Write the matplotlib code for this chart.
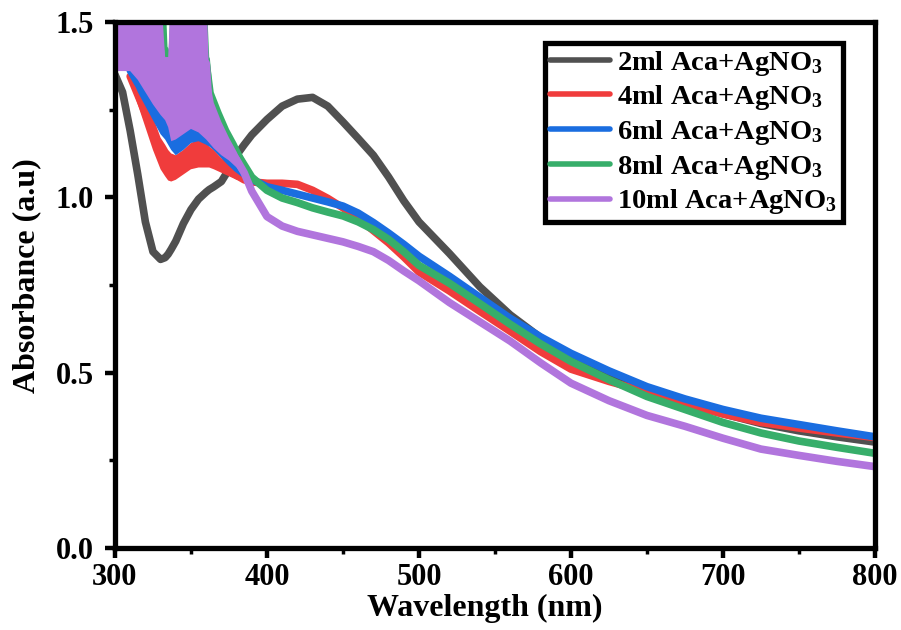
import numpy as np
import matplotlib
matplotlib.use("Agg")
import matplotlib.pyplot as plt
from matplotlib.lines import Line2D
from matplotlib.ticker import MultipleLocator

plt.rcParams['font.family'] = ['Liberation Serif', 'DejaVu Serif']
plt.rcParams['font.weight'] = 'bold'
plt.rcParams['mathtext.fontset'] = 'custom'
plt.rcParams['mathtext.rm'] = 'Liberation Serif:bold'
plt.rcParams['mathtext.bf'] = 'Liberation Serif:bold'
plt.rcParams['mathtext.default'] = 'bf'

# %% data
wavelength = [300, 305, 310, 315, 320, 325, 330, 333, 335, 337, 340, 345, 350, 355, 360,
              362, 365, 370, 375, 380, 385, 390, 400, 410, 420, 430, 440, 450, 460, 470,
              480, 490, 500, 520, 540, 560, 580, 600, 625, 650, 675, 700, 725, 750, 775, 800]
n_noisy = 22  # first points (300-390 nm) where the traces are noisy bands

nan = np.nan
abs_2ml = [1.35, 1.30, 1.19, 1.065, 0.93, 0.845, 0.823, 0.828, 0.838, 0.852, 0.875, 0.925, 0.965, 0.995, 1.015,
           1.022, 1.03, 1.045, 1.08, 1.12, 1.15, 1.178, 1.222, 1.26, 1.28, 1.285, 1.26, 1.215, 1.168, 1.12,
           1.058, 0.99, 0.93, 0.84, 0.745, 0.665, 0.60, 0.548, 0.49, 0.448, 0.413, 0.383, 0.355, 0.334, 0.317, 0.302]

# lower edge of each trace (noisy part) / the trace itself (smooth part)
abs_4ml = [nan, nan, 1.33, 1.265, 1.20, 1.135, 1.08, 1.06, 1.048, 1.045, 1.05, 1.065, 1.08, 1.085, 1.085,
           1.085, 1.08, 1.07, 1.06, 1.05, 1.045, 1.043, 1.04, 1.04, 1.037, 1.02, 0.997, 0.97, 0.94, 0.905,
           0.87, 0.83, 0.787, 0.733, 0.675, 0.618, 0.56, 0.51, 0.475, 0.445, 0.41, 0.382, 0.358, 0.342, 0.328, 0.315]
top_4ml = [nan, nan, 1.36, 1.32, 1.28, 1.23, 1.17, 1.15, 1.135, 1.125, 1.12, 1.135, 1.155, 1.165, 1.155,
           1.145, 1.135, 1.112, 1.095, 1.075, 1.055, 1.045]

abs_6ml = [nan, nan, 1.355, 1.30, 1.26, 1.22, 1.18, 1.165, 1.15, 1.135, 1.12, 1.135, 1.155, 1.16, 1.15,
           1.145, 1.135, 1.112, 1.09, 1.072, 1.058, 1.048, 1.03, 1.02, 1.009, 0.998, 0.987, 0.975, 0.955, 0.928,
           0.898, 0.866, 0.832, 0.775, 0.715, 0.655, 0.602, 0.555, 0.505, 0.46, 0.425, 0.395, 0.37, 0.352, 0.334, 0.317]
top_6ml = [nan, nan, 1.37, 1.35, 1.33, 1.30, 1.27, 1.25, 1.24, 1.22, 1.20, 1.19, 1.20, 1.19, 1.18,
           1.175, 1.165, 1.145, 1.12, 1.095, 1.075, 1.055]

abs_8ml = [1.38, 1.38, 1.38, 1.355, 1.32, 1.285, 1.255, 1.24, 1.22, 1.18, 1.185, 1.20, 1.215, 1.205, 1.185,
           1.175, 1.16, 1.14, 1.12, 1.10, 1.075, 1.045, 1.02, 0.998, 0.985, 0.97, 0.958, 0.947, 0.93, 0.908,
           0.88, 0.845, 0.806, 0.755, 0.697, 0.638, 0.582, 0.532, 0.48, 0.432, 0.395, 0.358, 0.328, 0.305, 0.287, 0.27]
top_8ml = [1.6, 1.6, 1.6, 1.6, 1.6, 1.6, 1.6, 1.6, 1.38, 1.6, 1.6, 1.6, 1.6, 1.6, 1.6,
           1.40, 1.30, 1.245, 1.195, 1.155, 1.11, 1.07]

abs_10ml = [1.36, 1.36, 1.36, 1.335, 1.30, 1.265, 1.235, 1.22, 1.20, 1.16, 1.165, 1.18, 1.195, 1.185, 1.165,
            1.155, 1.14, 1.12, 1.105, 1.085, 1.055, 1.005, 0.945, 0.918, 0.903, 0.893, 0.883, 0.873, 0.86, 0.845,
            0.82, 0.79, 0.762, 0.70, 0.645, 0.59, 0.528, 0.47, 0.42, 0.378, 0.347, 0.313, 0.282, 0.264, 0.247, 0.232]
top_10ml = [1.6, 1.6, 1.6, 1.6, 1.6, 1.6, 1.6, 1.40, 1.40, 1.6, 1.6, 1.6, 1.6, 1.6, 1.6,
            1.34, 1.27, 1.215, 1.17, 1.13, 1.085, 1.03]

labels = ['2ml Aca+AgNO$_3$', '4ml Aca+AgNO$_3$', '6ml Aca+AgNO$_3$',
          '8ml Aca+AgNO$_3$', '10ml Aca+AgNO$_3$']
colors = ['#505050', '#f03c3c', '#1a6de0', '#37ae6a', '#b175dd']

# %% figure
fig = plt.figure(figsize=(9.01, 6.30), dpi=100)
ax = fig.add_axes([0.1276, 0.1302, 0.8435, 0.8349])

x = np.array(wavelength, dtype=float)
lw = 5.5
ax.plot(x, abs_2ml, color=colors[0], lw=lw, solid_capstyle='round', solid_joinstyle='round', zorder=2)

bands = [(abs_4ml, top_4ml), (abs_6ml, top_6ml), (abs_8ml, top_8ml), (abs_10ml, top_10ml)]
for i, ((lo, top), c) in enumerate(zip(bands, colors[1:])):
    lo = np.array(lo, dtype=float)
    hi = np.concatenate([np.array(top, dtype=float), lo[n_noisy:]])
    ok = ~np.isnan(lo)
    z = 3 + i
    ax.fill_between(x[ok], lo[ok], hi[ok], facecolor=c, lw=0, zorder=z)
    ax.plot(x[ok], (lo[ok] + hi[ok]) / 2, color=c, lw=lw,
            solid_capstyle='round', solid_joinstyle='round', zorder=z)

ax.set_xlim(300, 800)
ax.set_ylim(0, 1.5)
ax.xaxis.set_major_locator(MultipleLocator(100))
ax.xaxis.set_minor_locator(MultipleLocator(50))
ax.yaxis.set_major_locator(MultipleLocator(0.5))
ax.yaxis.set_minor_locator(MultipleLocator(0.25))
ax.yaxis.set_major_formatter(plt.FormatStrFormatter('%.1f'))

for s in ax.spines.values():
    s.set_linewidth(3.8)
    s.set_zorder(10)
ax.tick_params(which='major', direction='out', length=7, width=3.2, labelsize=22)
ax.tick_params(axis='y', which='major', pad=8)
ax.tick_params(axis='x', which='major', pad=4)
ax.tick_params(which='minor', direction='out', length=4, width=2.5)
ax.tick_params(top=False, right=False, which='both')

ax.set_xlabel('Wavelength (nm)', fontsize=23, fontweight='bold')
ax.xaxis.set_label_coords(0.487, -0.0875)
ax.set_ylabel('Absorbance (a.u)', fontsize=23, fontweight='bold')
ax.yaxis.set_label_coords(-0.097, 0.517)

handles = [Line2D([], [], color=c, lw=4, solid_capstyle='round') for c in colors]
leg = ax.legend(handles, labels, loc='upper right', bbox_to_anchor=(0.958, 0.96),
                frameon=True, fancybox=False, edgecolor='black',
                framealpha=1, handlelength=2.1, handletextpad=0.25, labelspacing=0.2,
                borderpad=0.2, borderaxespad=0.0, prop={'weight': 'bold', 'size': 20.5})
leg.get_frame().set_linewidth(3.8)
leg.set_zorder(20)

fig.savefig('out.png', dpi=100)
